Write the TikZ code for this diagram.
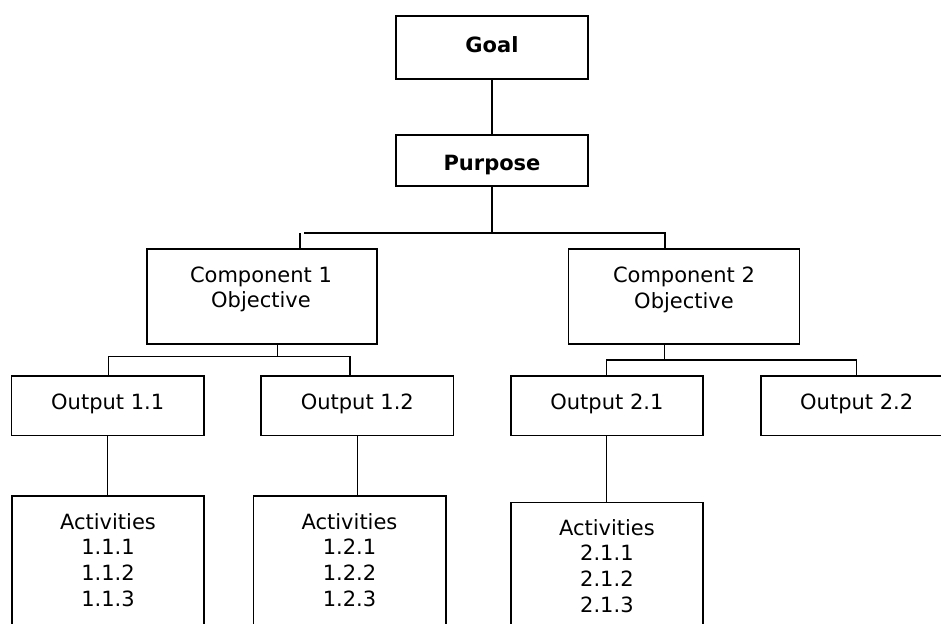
\documentclass[tikz,border=0pt]{standalone}
\usepackage{fontspec}
\setmainfont{DejaVu Sans}
\begin{document}
\begin{tikzpicture}[x=1pt,y=-1pt,
  box/.style={draw=black, line width=1.6pt, rectangle, inner sep=0pt},
  conn/.style={draw=black, line width=1.1pt},
  lbl/.style={anchor=base, inner sep=0pt, font=\fontsize{21}{25.7}\selectfont}]
\useasboundingbox (0,0) rectangle (941,623);
\clip (0,0) rectangle (941,623);
% boxes
\node[box, minimum width=192pt, minimum height=63pt] (goal) at (492,47.5) {};
\node[box, minimum width=192pt, minimum height=51pt] (purpose) at (492,160.5) {};
\node[box, minimum width=230pt, minimum height=95pt] (comp1) at (261.7,296.5) {};
\node[box, minimum width=231pt, minimum height=95pt] (comp2) at (683.8,296.5) {};
\node[box, minimum width=192.7pt, minimum height=59.3pt] (out11) at (107.7,405.7) {};
\node[box, minimum width=192.7pt, minimum height=59.3pt] (out12) at (357.3,405.7) {};
\node[box, minimum width=192.3pt, minimum height=59.3pt] (out21) at (606.9,405.7) {};
\node[box, minimum width=192.3pt, minimum height=59.3pt] (out22) at (857,405.7) {};
\node[box, minimum width=192pt, minimum height=144pt] (act11) at (108,567.7) {};
\node[box, minimum width=192.4pt, minimum height=144pt] (act12) at (349.5,567.7) {};
\node[box, minimum width=192.3pt, minimum height=138pt] (act21) at (606.9,571.3) {};
% texts
\node[lbl] (goalt) at (492,52.5) {\textbf{Goal}};
\node[lbl] (purposet) at (492,170) {\textbf{Purpose}};
\node[lbl] (comp1t) at (261,282) {\begin{tabular}[t]{@{}c@{}}Component 1\\Objective\end{tabular}};
\node[lbl] (comp2t) at (684,282.5) {\begin{tabular}[t]{@{}c@{}}Component 2\\Objective\end{tabular}};
\node[lbl] (out11t) at (107.7,409) {Output 1.1};
\node[lbl] (out12t) at (357.3,409) {Output 1.2};
\node[lbl] (out21t) at (606.9,409) {Output 2.1};
\node[lbl] (out22t) at (856.7,409) {Output 2.2};
\node[lbl] (act11t) at (108,529) {\begin{tabular}[t]{@{}c@{}}Activities\\1.1.1\\1.1.2\\1.1.3\end{tabular}};
\node[lbl] (act12t) at (349.5,529) {\begin{tabular}[t]{@{}c@{}}Activities\\1.2.1\\1.2.2\\1.2.3\end{tabular}};
\node[lbl] (act21t) at (606.9,535) {\begin{tabular}[t]{@{}c@{}}Activities\\2.1.1\\2.1.2\\2.1.3\end{tabular}};
% junction points
\coordinate (j0) at (492,233);
\coordinate (j0l) at (304,233);
\coordinate (j0r) at (665,233);
\coordinate (d1) at (300,233);
\coordinate (k1) at (277.3,356.7);
\coordinate (k1l) at (108.3,356.7);
\coordinate (k1r) at (350,356.7);
\coordinate (k2) at (664.3,360);
\coordinate (k2l) at (606.7,360);
\coordinate (k2r) at (856.7,360);
% connectors
\draw[conn] (goal.south) -- (purpose.north);
\draw[conn] (purpose.south) -- (j0);
\draw[conn] (j0l) -- (j0r) -- (j0r |- comp2.north);
\draw[conn] (d1) -- (d1 |- comp1.north);
\draw[conn] (k1 |- comp1.south) -- (k1);
\draw[conn] (k1l |- out11.north) -- (k1l) -- (k1r) -- (k1r |- out12.north);
\draw[conn] (k2 |- comp2.south) -- (k2);
\draw[conn] (k2l |- out21.north) -- (k2l) -- (k2r) -- (k2r |- out22.north);
\draw[conn] (out11.south) -- (out11.south |- act11.north);
\draw[conn] (out12.south) -- (out12.south |- act12.north);
\draw[conn] (out21.south) -- (out21.south |- act21.north);
\end{tikzpicture}
\end{document}
